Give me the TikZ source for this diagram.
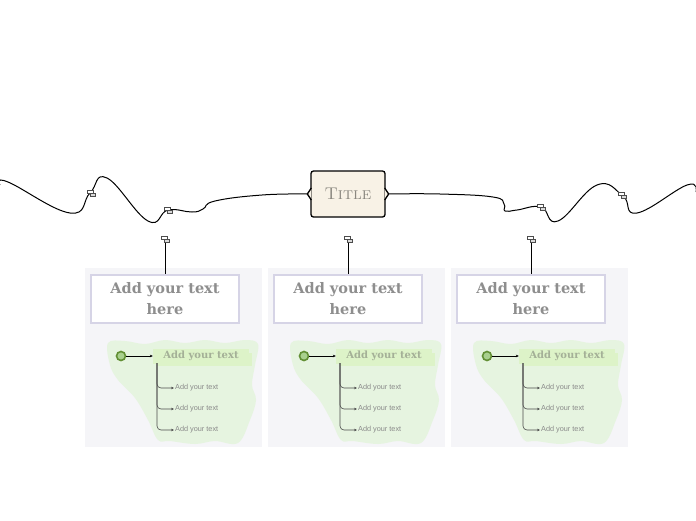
\documentclass[tikz,border=0pt]{standalone}
\usepackage{fontspec}
\newfontfamily\slab{DejaVu Serif}
\newfontfamily\plainsans{Liberation Sans}
\usetikzlibrary{arrows.meta}

\definecolor{panelgray}{HTML}{F5F5F8}
\definecolor{lavender}{HTML}{D6D4E6}
\definecolor{headgray}{HTML}{8E8E8E}
\definecolor{blobgreen}{HTML}{E6F4E0}
\definecolor{lblgreen}{HTML}{DDF3C8}
\definecolor{lbltext}{HTML}{A4B097}
\definecolor{dotdark}{HTML}{628F34}
\definecolor{dotlight}{HTML}{A9D08E}
\definecolor{titlecream}{HTML}{F8F2E6}
\definecolor{titlegray}{HTML}{8A877F}
\definecolor{subgray}{HTML}{8A8A8A}

\tikzset{
  wire/.style={line width=1pt},
  titlebox/.style={draw, line width=1.3pt, rounded corners=2.5pt, fill=titlecream,
    minimum width=74, minimum height=46, text=titlegray,
    font=\rmfamily\scshape\fontsize{17}{20}\selectfont},
  bump/.style={line width=1.3pt, fill=titlecream, line join=round},
  headbox/.style={draw=lavender, line width=1.5pt, fill=white, minimum width=148,
    minimum height=48, align=center, text=headgray,
    font=\slab\bfseries\fontsize{14.5}{21}\selectfont},
  lbl/.style={fill=lblgreen, minimum width=96, minimum height=15, inner sep=0pt,
    text=lbltext, font=\slab\bfseries\fontsize{10}{11}\selectfont},
  dot/.style={circle, draw=dotdark, line width=1.6pt, fill=dotlight, minimum size=9, inner sep=0pt},
  subitem/.style={anchor=west, inner sep=1pt, text=subgray,
    font=\plainsans\fontsize{7.3}{8}\selectfont},
  branch/.style={draw=black!70, line width=0.6pt, rounded corners=4pt},
  attachicon/.pic={
    \draw[fill=white, line width=0.5pt, draw=black!70] (-4,-3) rectangle (2,0.5);
    \draw[fill=black!15, line width=0.5pt, draw=black!70] (-1,0.5) rectangle (4,3.5);
  }
}

\begin{document}
\begin{tikzpicture}[x=1pt, y=-1pt, >={Stealth[length=3pt, width=2.6pt]}]
  \useasboundingbox (0,0) rectangle (696,520);

  % title
  \node[titlebox] (title) at (348,194) {Title};
  \draw[bump] ([xshift=1pt]title.west) ++(0,-6) -- ++(-4,6) -- ++(4,6);
  \draw[bump] ([xshift=-1pt]title.east) ++(0,-6) -- ++(4,6) -- ++(-4,6);
  \coordinate (tl) at ([xshift=-3pt]title.west);
  \coordinate (tr) at ([xshift=3pt]title.east);
  \coordinate (wl) at (0,185);
  \coordinate (wr) at (696,192);

  % wavy wires
  \draw[wire] plot[smooth, tension=0.75] coordinates {(tl) (262,195) (215,201) (203,209)
    (192,212) (168,210) (148,221) (107,178) (90,193) (70,213) (8,182) (wl)};
  \draw[wire] plot[smooth, tension=0.75] coordinates {(tr) (440,194) (493,197) (504,204)
    (505,211) (517,210) (541,207) (558,221) (597,185) (623,196) (637,213) (687,185) (wr)};
  \foreach \p in {(91,193), (168,210), (541,207), (622,195)}
    \pic at \p {attachicon};

  % the three panels
  \foreach \i/\dx in {1/0, 2/183, 3/366}{
    \begin{scope}[xshift=\dx]
      \fill[panelgray] (85,268) rectangle (262,447);
      \fill[blobgreen] plot[smooth cycle, tension=0.6] coordinates {(108,343) (125,341)
        (145,344) (165,340) (185,343) (205,340) (225,343) (245,340) (258,344) (255,365)
        (252,385) (256,400) (250,420) (238,443) (215,441) (195,444) (170,441) (158,440)
        (148,420) (135,398) (118,380) (110,365)};

      \node[headbox] (head\i) at (165,299) {Add your text\\here};
      \coordinate (pin\i) at (165,243);
      \draw[line width=0.7pt] (pin\i) -- (head\i.north);
      \pic at (165,239) {attachicon};

      \fill[lblgreen] (157,353) rectangle (252,366);
      \node[lbl] (lbl\i) at (201,356) {Add your text};
      \node[dot] (dot\i) at (121,356) {};
      \draw[->, line width=0.7pt] (dot\i) -- (lbl\i.west);

      \coordinate (stem\i) at (157,363);
      \foreach \j/\y in {a/388, b/409, c/430}{
        \node[subitem] (sub\i\j) at (174,\y) {Add your text};
        \draw[branch, ->] (stem\i) |- (sub\i\j.west);
      }
    \end{scope}
  }
\end{tikzpicture}
\end{document}
